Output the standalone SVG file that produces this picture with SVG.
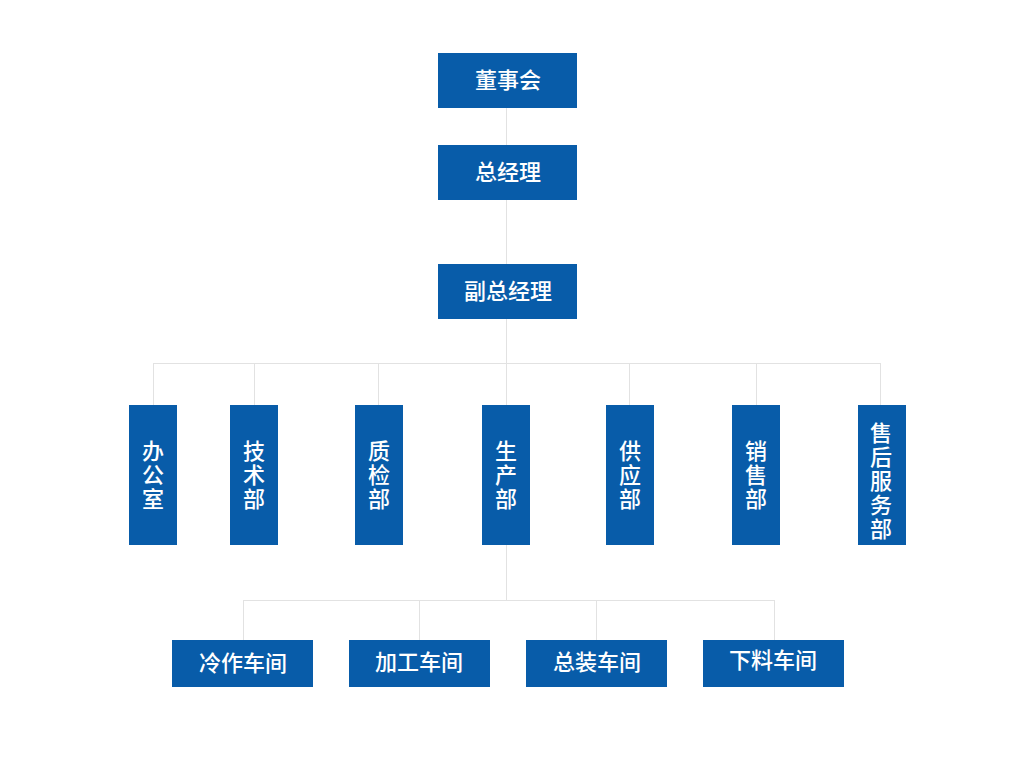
<svg xmlns="http://www.w3.org/2000/svg" width="1010" height="774" viewBox="0 0 1010 774">
<style>
.b{fill:#085ca9}
.t{fill:#fff;font-family:"Noto Sans CJK SC",sans-serif;font-size:22px;font-weight:500;text-anchor:middle}
.v{writing-mode:vertical-rl;letter-spacing:2px}
.l{stroke:#e2e2e2;stroke-width:1;fill:none}
</style>
<rect width="1010" height="774" fill="#fff"/>
<g id="connectors" class="l">
<path d="M506.5 108V363M153.5 363.5H880.5M153.5 363V405M254.5 363V405M378.5 363V405M506.5 363V405M629.5 363V405M756.5 363V405M880.5 363V405"/>
<path d="M506.5 545V600M243.5 600.5H774.5M243.5 600V640M419.5 600V640M596.5 600V640M774.5 600V640"/>
</g>
<g id="n1"><rect class="b" x="438" y="53" width="139" height="55"/><text class="t" x="508" y="88">董事会</text></g>
<g id="n2"><rect class="b" x="438" y="145" width="139" height="55"/><text class="t" x="508" y="180">总经理</text></g>
<g id="n3"><rect class="b" x="438" y="264" width="139" height="55"/><text class="t" x="508" y="299">副总经理</text></g>
<g id="d1"><rect class="b" x="129" y="405" width="48" height="140"/><text class="t v" x="153" y="476">办公室</text></g>
<g id="d2"><rect class="b" x="230" y="405" width="48" height="140"/><text class="t v" x="254" y="476">技术部</text></g>
<g id="d3"><rect class="b" x="355" y="405" width="48" height="140"/><text class="t v" x="379" y="476">质检部</text></g>
<g id="d4"><rect class="b" x="482" y="405" width="48" height="140"/><text class="t v" x="506" y="476">生产部</text></g>
<g id="d5"><rect class="b" x="606" y="405" width="48" height="140"/><text class="t v" x="630" y="476">供应部</text></g>
<g id="d6"><rect class="b" x="732" y="405" width="48" height="140"/><text class="t v" x="756" y="476">销售部</text></g>
<g id="d7"><rect class="b" x="858" y="405" width="48" height="140"/><text class="t v" x="881" y="482">售后服务部</text></g>
<g id="w1"><rect class="b" x="172" y="640" width="141" height="47"/><text class="t" x="243" y="671">冷作车间</text></g>
<g id="w2"><rect class="b" x="349" y="640" width="141" height="47"/><text class="t" x="419" y="670">加工车间</text></g>
<g id="w3"><rect class="b" x="526" y="640" width="141" height="47"/><text class="t" x="597" y="670">总装车间</text></g>
<g id="w4"><rect class="b" x="703" y="640" width="141" height="47"/><text class="t" x="773" y="668">下料车间</text></g>
</svg>
